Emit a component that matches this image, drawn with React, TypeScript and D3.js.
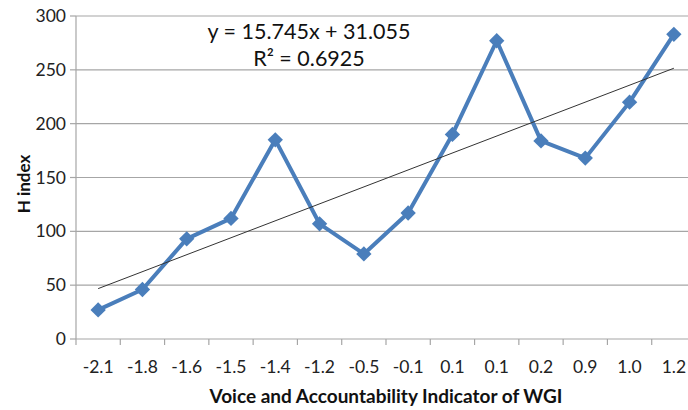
import React from "react";
import * as d3 from "d3";

const categories = ["-2.1", "-1.8", "-1.6", "-1.5", "-1.4", "-1.2", "-0.5", "-0.1", "0.1", "0.1 ", "0.2", "0.9", "1.0", "1.2"];
const hIndex = [27, 46, 93, 112, 185, 107, 79, 117, 190, 277, 184, 168, 220, 283];
const yTicks = [0, 50, 100, 150, 200, 250, 300];
const trendSlope = 15.745;
const trendIntercept = 31.055;
const equationLines = ["y = 15.745x + 31.055", "R² = 0.6925"];

const W = 688, H = 410;
const m = { left: 76, right: -8, top: 16, bottom: 71 };

export default function App() {
  const x = d3.scaleBand<string>().domain(categories).range([m.left, W - m.right]).padding(0);
  const y = d3.scaleLinear().domain([0, 300]).range([H - m.bottom, m.top]);
  const cx = (i: number) => (x(categories[i]) as number) + x.bandwidth() / 2;
  const line = d3.line<number>().x((_, i) => cx(i)).y((d) => y(d));
  const diamond = d3.symbol().type(d3.symbolDiamond2).size(150)();
  const font = "Lato, 'Open Sans', sans-serif";
  const t0 = 1, t1 = categories.length;
  const boundaries = categories.map((c) => x(c) as number).concat([W - m.right]);
  return (
    <svg width={W} height={H} style={{ position: "absolute", left: 0, top: 0, background: "#fff" }}>
      {yTicks.map((t) => (
        <g key={t}>
          {t > 0 && <line x1={m.left} x2={W - m.right} y1={y(t)} y2={y(t)} stroke="#a6a6a6" strokeWidth={1.2} />}
          <line x1={m.left - 6} x2={m.left} y1={y(t)} y2={y(t)} stroke="#a6a6a6" strokeWidth={1.2} />
          <text x={m.left - 10} y={y(t)} dy="0.35em" textAnchor="end" fontSize={17.5} fontFamily={font} fill="#222">{t}</text>
        </g>
      ))}
      <line x1={m.left} x2={m.left} y1={m.top} y2={y(0)} stroke="#a6a6a6" strokeWidth={1.2} />
      <line x1={m.left} x2={W - m.right} y1={y(0)} y2={y(0)} stroke="#a6a6a6" strokeWidth={1.2} />
      {boundaries.map((b, i) => (
        <line key={i} x1={b} x2={b} y1={y(0)} y2={y(0) + 6} stroke="#a6a6a6" strokeWidth={1.2} />
      ))}
      {categories.map((c, i) => (
        <text key={i} x={cx(i)} y={y(0) + 34} textAnchor="middle" fontSize={17.5} fontFamily={font} fill="#222">{c.trim()}</text>
      ))}
      <path d={line(hIndex) as string} fill="none" stroke="#4a7ebb" strokeWidth={4} strokeLinejoin="round" />
      {hIndex.map((v, i) => (
        <path key={i} d={diamond as string} transform={`translate(${cx(i)},${y(v)})`} fill="#4a7ebb" />
      ))}
      <line x1={cx(0)} x2={cx(categories.length - 1)} y1={y(trendSlope * t0 + trendIntercept)} y2={y(trendSlope * t1 + trendIntercept)} stroke="#333" strokeWidth={1} />
      {equationLines.map((s, i) => (
        <text key={i} x={309} y={39 + i * 27} textAnchor="middle" fontSize={21.5} fontFamily={font} fill="#111">{s}</text>
      ))}
      <text x={386} y={403} textAnchor="middle" fontSize={19} fontWeight="bold" fontFamily={font} fill="#111">Voice and Accountability Indicator of WGI</text>
      <text transform={`translate(30,184) rotate(-90)`} textAnchor="middle" fontSize={17} fontWeight="bold" fontFamily={font} fill="#111">H index</text>
    </svg>
  );
}
